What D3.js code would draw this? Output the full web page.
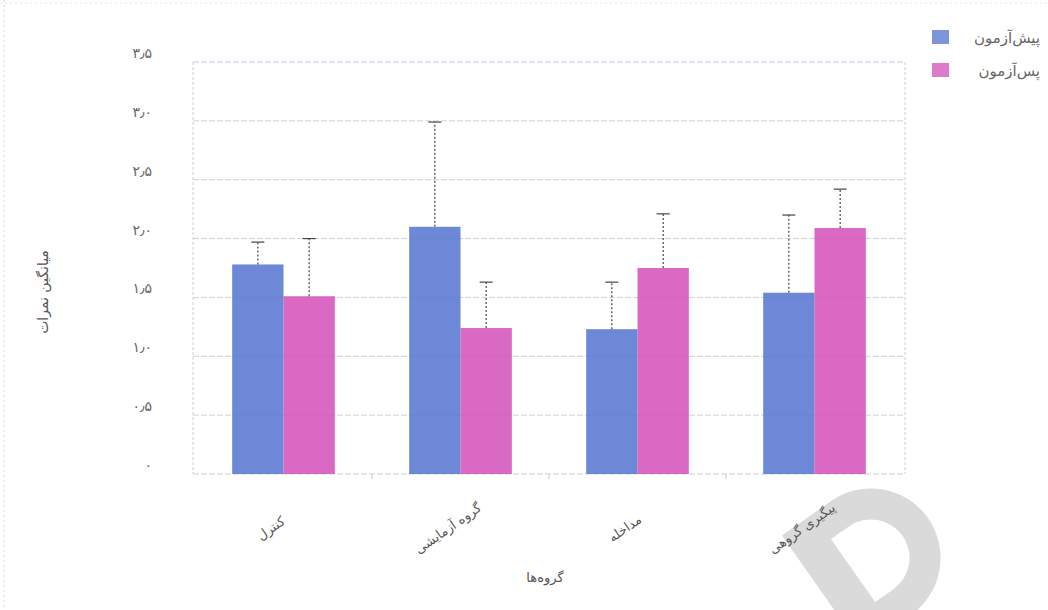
<!DOCTYPE html>
<html lang="fa">
<head>
<meta charset="utf-8">
<script src="https://cdn.jsdelivr.net/npm/d3@7"></script>
<style>
  html, body { margin: 0; padding: 0; background: #ffffff; }
  svg { display: block; font-family: "DejaVu Sans", sans-serif; }
</style>
</head>
<body>
<svg id="chart" width="1048" height="610"></svg>
<script>
// Groups on the x axis
const categories = ["کنترل", "گروه آزمایشی", "مداخله", "پیگیری گروهی"];
// Series shown in the legend
const seriesNames = ["پیش‌آزمون", "پس‌آزمون"];
// Mean of each series per group
const preValues  = [1.78, 2.10, 1.23, 1.54];
const postValues = [1.51, 1.24, 1.75, 2.09];
// Upper end of the error bar per group
const preErrTop  = [1.97, 2.99, 1.63, 2.20];
const postErrTop = [2.00, 1.63, 2.21, 2.42];
// Y axis ticks
const yTicks = [0, 0.5, 1, 1.5, 2, 2.5, 3, 3.5];
const yTitle = "میانگین نمرات";
const xTitle = "گروه‌ها";

const colors = ["#5273cf", "#d24fb8"];

const svg = d3.select("#chart");
const plot = { left: 193, right: 905, top: 62, bottom: 474 };

const faDigits = s => String(s).replace(/\d/g, d => "۰۱۲۳۴۵۶۷۸۹"[d]).replace(".", "٫");

// Watermark logo in the lower right corner (a tilted "D" outline shape),
// drawn first so it stays underneath everything else
const mark = d3.path();
mark.moveTo(-65, -139); mark.lineTo(-5, -139);
mark.arc(-5, -69.5, 69.5, -Math.PI / 2, Math.PI / 2);
mark.lineTo(-65, 0); mark.closePath();
mark.moveTo(-27, -108); mark.lineTo(-5, -108);
mark.arc(-5, -69.5, 38.5, -Math.PI / 2, Math.PI / 2);
mark.lineTo(-27, -31); mark.closePath();
svg.append("path")
  .attr("transform", "translate(915,612) rotate(-35)")
  .attr("d", mark.toString())
  .attr("fill", "#dadada")
  .attr("fill-rule", "evenodd");

const x0 = d3.scaleBand()
  .domain(categories)
  .range([195, 903])
  .paddingInner(0.42)
  .paddingOuter(0.21);

const x1 = d3.scaleBand()
  .domain(seriesNames)
  .range([0, x0.bandwidth()]);

const y = d3.scaleLinear()
  .domain([0, 3.5])
  .range([plot.bottom, plot.top]);

// Horizontal grid lines
svg.append("g")
  .selectAll("line")
  .data(yTicks)
  .join("line")
  .attr("x1", plot.left)
  .attr("x2", plot.right)
  .attr("y1", d => y(d))
  .attr("y2", d => y(d))
  .attr("stroke", d => d === 3.5 ? "#b9cbe6" : "#d2d2d2")
  .attr("stroke-width", 1)
  .attr("stroke-dasharray", "6,2");

// Frame: left axis and right edge
svg.append("line")
  .attr("x1", plot.left).attr("x2", plot.left)
  .attr("y1", plot.top).attr("y2", plot.bottom)
  .attr("stroke", "#c3d2ea").attr("stroke-dasharray", "3,2");
svg.append("line")
  .attr("x1", plot.right).attr("x2", plot.right)
  .attr("y1", plot.top).attr("y2", plot.bottom)
  .attr("stroke", "#c3d2ea").attr("stroke-dasharray", "3,2");

// Y tick labels
svg.append("g")
  .selectAll("text")
  .data(yTicks)
  .join("text")
  .attr("x", 152)
  .attr("y", d => y(d) - 8)
  .attr("text-anchor", "end")
  .attr("dominant-baseline", "middle")
  .attr("font-size", 14)
  .attr("fill", "#666")
  .text(d => d === 0 ? faDigits(0) : faDigits(d3.format(".1f")(d)));

// X axis baseline ticks at group boundaries
const step = x0.step();
const boundaries = categories.slice(1).map(c => x0(c) - x0.paddingInner() * step / 2);
svg.append("g")
  .selectAll("line")
  .data(boundaries)
  .join("line")
  .attr("x1", d => d).attr("x2", d => d)
  .attr("y1", plot.bottom).attr("y2", plot.bottom + 5)
  .attr("stroke", "#c8c8c8");

// Bars
const rows = categories.map((c, i) => ({
  cat: c,
  vals: [
    { s: seriesNames[0], v: preValues[i], e: preErrTop[i], k: 0 },
    { s: seriesNames[1], v: postValues[i], e: postErrTop[i], k: 1 }
  ]
}));

const groups = svg.append("g")
  .selectAll("g")
  .data(rows)
  .join("g")
  .attr("transform", d => `translate(${x0(d.cat)},0)`);

groups.selectAll("rect")
  .data(d => d.vals)
  .join("rect")
  .attr("x", d => x1(d.s))
  .attr("y", d => y(d.v))
  .attr("width", x1.bandwidth())
  .attr("height", d => y(0) - y(d.v))
  .attr("fill", d => colors[d.k])
  .attr("fill-opacity", 0.85);

// Error bars
const capW = 13;
groups.selectAll("line.err")
  .data(d => d.vals)
  .join("line")
  .attr("class", "err")
  .attr("x1", d => x1(d.s) + x1.bandwidth() / 2)
  .attr("x2", d => x1(d.s) + x1.bandwidth() / 2)
  .attr("y1", d => y(d.v))
  .attr("y2", d => y(d.e))
  .attr("stroke", "#444")
  .attr("stroke-width", 1.2)
  .attr("stroke-dasharray", "2,2");
groups.selectAll("line.cap")
  .data(d => d.vals)
  .join("line")
  .attr("class", "cap")
  .attr("x1", d => x1(d.s) + x1.bandwidth() / 2 - capW / 2)
  .attr("x2", d => x1(d.s) + x1.bandwidth() / 2 + capW / 2)
  .attr("y1", d => y(d.e))
  .attr("y2", d => y(d.e))
  .attr("stroke", "#444")
  .attr("stroke-width", 1.2);

// X category labels, rotated
svg.append("g")
  .selectAll("text")
  .data(categories)
  .join("text")
  .attr("transform", d => `translate(${x0(d) + x0.bandwidth() / 2 - 10},532) rotate(-35)`)
  .attr("text-anchor", "middle")
  .attr("font-size", 13)
  .attr("fill", "#555")
  .text(d => d);

// Axis titles
svg.append("text")
  .attr("x", 545).attr("y", 582)
  .attr("text-anchor", "middle")
  .attr("font-size", 13)
  .attr("fill", "#555")
  .text(xTitle);

svg.append("text")
  .attr("transform", "translate(48,292) rotate(-90)")
  .attr("text-anchor", "middle")
  .attr("font-size", 14)
  .attr("fill", "#555")
  .text(yTitle);

// Legend
const legend = svg.append("g")
  .selectAll("g")
  .data(seriesNames)
  .join("g")
  .attr("transform", (d, i) => `translate(932,${30 + i * 33})`);
legend.append("rect")
  .attr("width", 17).attr("height", 14)
  .attr("fill", (d, i) => colors[i])
  .attr("fill-opacity", 0.75);
legend.append("text")
  .attr("x", 108).attr("y", 8)
  .attr("text-anchor", "end")
  .attr("dominant-baseline", "middle")
  .attr("font-size", 15)
  .attr("fill", "#666")
  .text(d => d);

// Faint page border
svg.append("line")
  .attr("x1", 4).attr("x2", 4).attr("y1", 0).attr("y2", 610)
  .attr("stroke", "#d8d8d8").attr("stroke-dasharray", "2,3");
svg.append("line")
  .attr("x1", 0).attr("x2", 1048).attr("y1", 3).attr("y2", 3)
  .attr("stroke", "#e6e6e6").attr("stroke-dasharray", "2,3");
</script>
</body>
</html>
